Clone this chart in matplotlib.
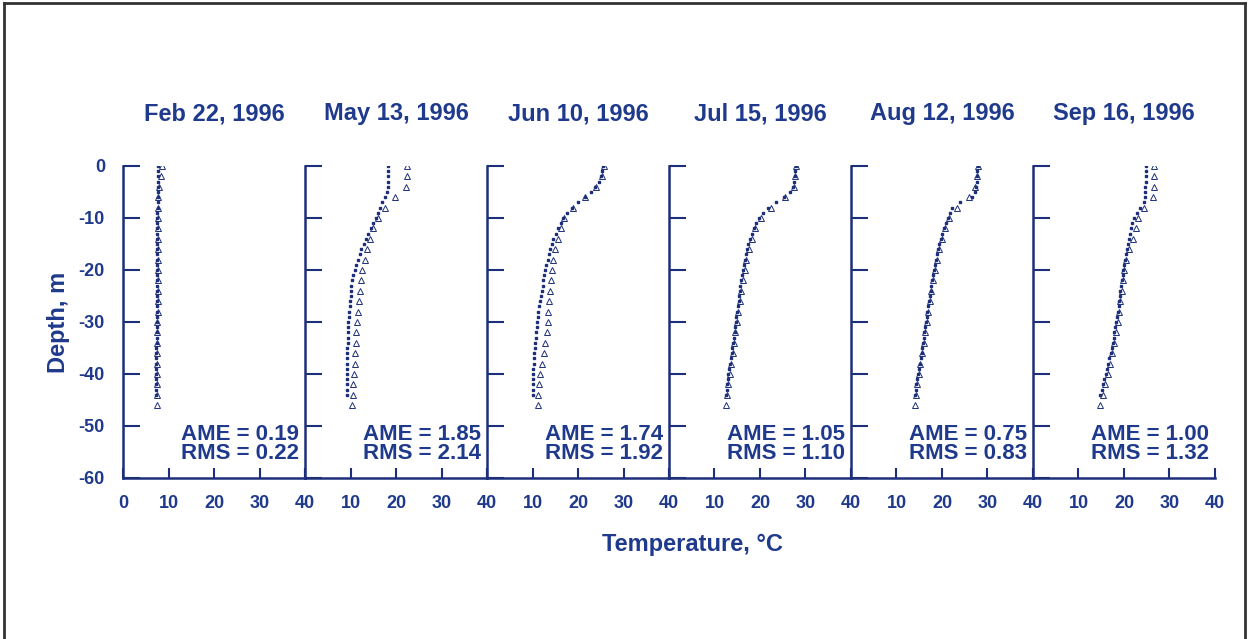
import matplotlib
matplotlib.use("Agg")
import matplotlib.pyplot as plt
from matplotlib.lines import Line2D

plt.rcParams["font.family"] = ["Liberation Sans", "DejaVu Sans"]
plt.rcParams["font.weight"] = "bold"
plt.rcParams["axes.titleweight"] = "bold"
plt.rcParams["axes.labelweight"] = "bold"
plt.rcParams["axes.unicode_minus"] = False

NAVY = "#1d2f7a"
TXT = "#1f3a8c"

titles = ["Feb 22, 1996", "May 13, 1996", "Jun 10, 1996",
          "Jul 15, 1996", "Aug 12, 1996", "Sep 16, 1996"]
ame = ["0.19", "1.85", "1.74", "1.05", "0.75", "1.00"]
rms = ["0.22", "2.14", "1.92", "1.10", "0.83", "1.32"]

# depths of simulated (dots) and observed (triangles) points, m
dot_depth = [0, -1, -2, -3, -4, -5, -6, -7, -8, -9, -10, -11, -12, -13, -14,
             -15, -16, -17, -18, -19, -20, -21, -22, -23, -24, -25, -26, -27,
             -28, -29, -30, -31, -32, -33, -34, -35, -36, -37, -38, -39, -40,
             -41, -42, -43, -44]
tri_depth = [0, -2, -4, -6, -8, -10, -12, -14, -16, -18, -20, -22, -24, -26,
             -28, -30, -32, -34, -36, -38, -40, -42, -44, -46]

dots_feb = [7.7, 7.7, 7.6, 7.6, 7.6, 7.6, 7.6, 7.6, 7.6, 7.5, 7.5, 7.5, 7.5,
            7.5, 7.5, 7.5, 7.5, 7.5, 7.5, 7.5, 7.5, 7.5, 7.5, 7.4, 7.4, 7.4,
            7.4, 7.4, 7.4, 7.4, 7.4, 7.4, 7.4, 7.4, 7.4, 7.3, 7.3, 7.3, 7.3,
            7.3, 7.3, 7.3, 7.3, 7.3, 7.3]
tri_feb = [8.6, 8.4, 8.0, 7.8, 7.7, 7.7, 7.7, 7.6, 7.6, 7.6, 7.6, 7.6, 7.6,
           7.6, 7.6, 7.5, 7.5, 7.5, 7.5, 7.5, 7.5, 7.5, 7.4, 7.4]

dots_may = [18.3, 18.3, 18.3, 18.3, 18.2, 18.0, 17.6, 17.0, 16.5, 16.0, 15.6,
            15.0, 14.5, 13.9, 13.4, 12.9, 12.4, 12.0, 11.6, 11.2, 10.9, 10.6,
            10.4, 10.2, 10.1, 10.0, 9.9, 9.8, 9.7, 9.6, 9.5, 9.5, 9.4, 9.4,
            9.4, 9.3, 9.3, 9.3, 9.3, 9.2, 9.2, 9.2, 9.2, 9.2, 9.2]
tri_may = [22.4, 22.4, 22.3, 19.8, 17.5, 16.0, 15.0, 14.3, 13.6, 13.1, 12.6,
           12.3, 12.0, 11.8, 11.6, 11.4, 11.3, 11.2, 11.0, 10.9, 10.7, 10.6,
           10.5, 10.3]

dots_jun = [25.5, 25.3, 25.0, 24.6, 23.8, 22.8, 21.5, 20.0, 18.7, 17.6, 16.8,
            16.2, 15.6, 15.1, 14.6, 14.2, 13.9, 13.6, 13.3, 13.0, 12.8, 12.6,
            12.4, 12.2, 12.0, 11.8, 11.6, 11.5, 11.3, 11.2, 11.0, 10.9, 10.8,
            10.7, 10.6, 10.5, 10.4, 10.4, 10.3, 10.2, 10.2, 10.1, 10.1, 10.0,
            10.0]
tri_jun = [25.8, 25.2, 24.0, 21.5, 18.8, 17.0, 16.2, 15.6, 15.0, 14.6, 14.2,
           14.0, 13.8, 13.6, 13.5, 13.4, 13.1, 12.8, 12.5, 12.1, 11.6, 11.4,
           11.3, 11.2]

dots_jul = [27.9, 27.7, 27.6, 27.5, 27.3, 26.6, 25.2, 23.5, 21.8, 20.6, 19.8,
            19.2, 18.7, 18.2, 17.8, 17.4, 17.1, 16.9, 16.7, 16.5, 16.3, 16.1,
            15.9, 15.7, 15.6, 15.4, 15.3, 15.1, 15.0, 14.8, 14.7, 14.5, 14.4,
            14.2, 14.1, 13.9, 13.8, 13.6, 13.4, 13.2, 13.0, 12.9, 12.8, 12.7,
            12.6]
tri_jul = [28.0, 27.8, 27.4, 25.6, 22.4, 20.2, 19.0, 18.2, 17.5, 17.0, 16.6,
           16.2, 15.8, 15.5, 15.2, 14.9, 14.6, 14.3, 14.0, 13.6, 13.3, 13.0,
           12.8, 12.6]

dots_aug = [27.9, 27.8, 27.7, 27.6, 27.5, 27.3, 26.6, 24.0, 22.2, 21.8, 21.3,
            20.9, 20.5, 20.1, 19.7, 19.4, 19.1, 18.9, 18.6, 18.4, 18.2, 18.0,
            17.8, 17.6, 17.5, 17.3, 17.1, 17.0, 16.8, 16.7, 16.5, 16.3, 16.1,
            16.0, 15.8, 15.6, 15.5, 15.3, 15.1, 14.9, 14.7, 14.5, 14.3, 14.2,
            14.1]
tri_aug = [28.0, 27.6, 27.2, 26.0, 23.2, 21.6, 20.6, 19.9, 19.3, 18.8, 18.4,
           18.0, 17.6, 17.3, 17.0, 16.7, 16.3, 16.0, 15.6, 15.2, 14.9, 14.5,
           14.2, 14.0]

dots_sep = [24.8, 24.8, 24.8, 24.8, 24.7, 24.7, 24.6, 24.4, 23.6, 22.8, 22.2,
            21.8, 21.5, 21.3, 21.0, 20.8, 20.6, 20.4, 20.2, 20.0, 19.8, 19.7,
            19.5, 19.4, 19.2, 19.1, 18.9, 18.8, 18.6, 18.5, 18.3, 18.1, 17.9,
            17.7, 17.5, 17.3, 17.1, 16.8, 16.5, 16.3, 16.0, 15.7, 15.4, 15.1,
            14.8]
tri_sep = [26.7, 26.6, 26.5, 26.4, 24.5, 23.0, 22.6, 22.0, 21.0, 20.5, 20.1,
           19.8, 19.5, 19.2, 18.9, 18.6, 18.2, 17.8, 17.4, 17.0, 16.4, 15.9,
           15.3, 14.8]

dots = [dots_feb, dots_may, dots_jun, dots_jul, dots_aug, dots_sep]
tris = [tri_feb, tri_may, tri_jun, tri_jul, tri_aug, tri_sep]

fig = plt.figure(figsize=(12.49, 6.39), dpi=100)

x0, w, y0, h = 123 / 1249, 182 / 1249, 1 - 478 / 639, (478 - 166) / 639
for i in range(6):
    ax = fig.add_axes([x0 + i * w, y0, w, h])
    ax.set_facecolor("none")
    ax.plot(tris[i], tri_depth, ls="none", marker="^", ms=4, mfc="none",
            mec=NAVY, mew=0.7)
    ax.plot(dots[i], dot_depth, ls="none", marker="s", ms=1.7, color=NAVY)
    ax.set_xlim(0, 40)
    ax.set_ylim(-60, 0)
    for s in ["top", "right"]:
        ax.spines[s].set_visible(False)
    for s in ["left", "bottom"]:
        ax.spines[s].set_color(NAVY)
        ax.spines[s].set_linewidth(1.8)
    ax.set_yticks([0, -10, -20, -30, -40, -50, -60])
    ax.tick_params(axis="y", direction="in", length=12, width=1.5, color=NAVY,
                   labelsize=13, labelcolor=TXT, pad=13)
    ax.set_xticks([0, 10, 20, 30, 40])
    ax.tick_params(axis="x", direction="in", length=7, width=1.5, color=NAVY,
                   labelsize=13, labelcolor=TXT, pad=12)
    if i == 0:
        ax.set_xticklabels(["0", "10", "20", "30", "40"])
        ax.set_ylabel("Depth, m", fontsize=17, color=TXT, labelpad=6)
    else:
        ax.set_xticklabels(["", "10", "20", "30", "40"])
        ax.set_yticklabels([])
    ax.set_title(titles[i], fontsize=17, color=TXT, pad=33)
    ax.text(0.965, 0.045, f"AME = {ame[i]}\nRMS = {rms[i]}",
            transform=ax.transAxes, ha="right", va="bottom", fontsize=16,
            color=TXT, linespacing=0.85)

fig.text(692 / 1249, 1 - 545 / 639, "Temperature, \u00b0C", ha="center",
         va="center", fontsize=17, color=TXT)

# frame around the figure
for xs, ys in [([0.003, 0.997], [0.995, 0.995]),
               ([0.003, 0.003], [0.0, 0.995]),
               ([0.997, 0.997], [0.0, 0.995])]:
    fig.add_artist(Line2D(xs, ys, transform=fig.transFigure, color="#333333",
                          lw=2))

fig.savefig("out.png", dpi=100)
